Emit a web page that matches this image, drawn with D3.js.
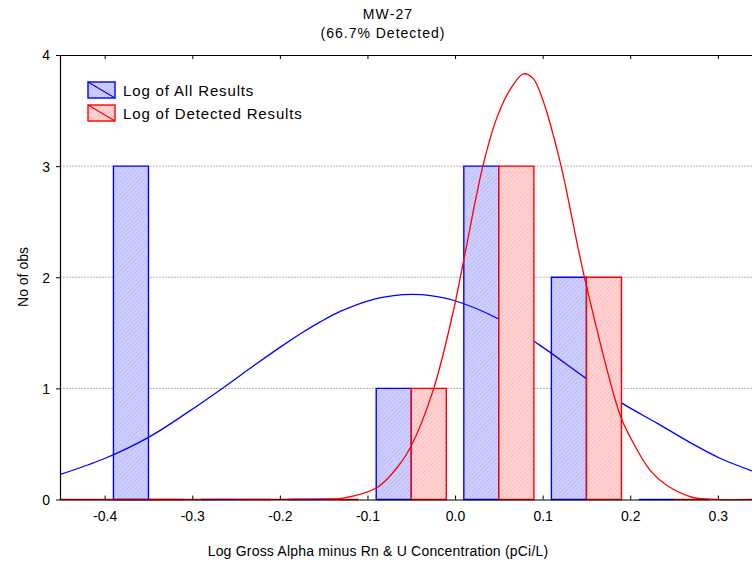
<!DOCTYPE html>
<html>
<head>
<meta charset="utf-8">
<script src="https://cdn.jsdelivr.net/npm/d3@7"></script>
<style>
  html, body { margin: 0; padding: 0; background: #ffffff; }
  svg { display: block; font-family: "Liberation Sans", Arial, sans-serif; }
</style>
</head>
<body>
<svg id="chart" width="752" height="563"></svg>
<script>
// ---------------- data ----------------
const titleLines = ["MW-27", "(66.7% Detected)"];
const xAxisTitle = "Log Gross Alpha minus Rn & U Concentration (pCi/L)";
const yAxisTitle = "No of obs";
const seriesNames = ["Log of All Results", "Log of Detected Results"];

const binCenters = [-0.35, -0.25, -0.15, -0.05, 0.05, 0.15, 0.25];
const allCounts = [3, 0, 0, 1, 3, 2, 0];
const detectedCounts = [0, 0, 0, 1, 3, 2, 0];

const xTicks = [-0.4, -0.3, -0.2, -0.1, 0.0, 0.1, 0.2, 0.3];
const xTickLabels = ["-0.4", "-0.3", "-0.2", "-0.1", "0.0", "0.1", "0.2", "0.3"];
const yTicks = [0, 1, 2, 3, 4];
const yTickLabels = ["0", "1", "2", "3", "4"];

// fitted curves
const allCurveX = [-0.451, -0.400, -0.350, -0.305, -0.265, -0.228, -0.197, -0.171, -0.154, -0.131, -0.097, -0.070, -0.049, -0.028, -0.002, 0.048, 0.097, 0.148, 0.191, 0.231, 0.268, 0.303, 0.339];
const allCurveY = [0.225, 0.369, 0.559, 0.786, 1.004, 1.214, 1.385, 1.518, 1.598, 1.693, 1.793, 1.834, 1.845, 1.835, 1.793, 1.631, 1.387, 1.099, 0.865, 0.685, 0.514, 0.369, 0.258];

const detCurveX = [-0.451, -0.300, -0.200, -0.146, -0.128, -0.089, -0.066, -0.051, -0.025, -0.002, 0.009, 0.032, 0.048, 0.063, 0.078, 0.089, 0.100, 0.120, 0.148, 0.188, 0.200, 0.223, 0.242, 0.272, 0.299, 0.339];
const detCurveY = [0, 0, 0.002, 0.005, 0.012, 0.108, 0.288, 0.468, 0.982, 1.694, 2.117, 3.009, 3.441, 3.69, 3.83, 3.79, 3.60, 3.036, 1.99, 0.77, 0.56, 0.26, 0.126, 0.018, 0.002, 0];

// ---------------- layout ----------------
const svg = d3.select("#chart");
const margin = { left: 60, top: 55, bottom: 499.5, right: 752 };
const xDomain = [-0.451, 0.339];
const halfBar = 0.04;

const x = d3.scaleLinear().domain(xDomain).range([margin.left, margin.right]);
const y = d3.scaleLinear().domain([0, 4]).range([margin.bottom, margin.top]);

const blue = "#0000ff", red = "#ff0000";

// patterns
const defs = svg.append("defs");
function hatch(id, base, line) {
  const p = defs.append("pattern").attr("id", id)
    .attr("patternUnits", "userSpaceOnUse").attr("width", 3).attr("height", 3)
    .attr("patternTransform", "rotate(45)");
  p.append("rect").attr("width", 3).attr("height", 3).attr("fill", base);
  p.append("line").attr("x1", 0).attr("y1", 0).attr("x2", 0).attr("y2", 3)
    .attr("stroke", line).attr("stroke-width", 1);
}
hatch("hb", "#d0d0ff", "#a6a6fb");
hatch("hr", "#ffd4d4", "#ffa6a6");

defs.append("clipPath").attr("id", "plotclip").append("rect")
  .attr("x", margin.left).attr("y", margin.top - 2)
  .attr("width", margin.right - margin.left).attr("height", margin.bottom - margin.top + 4);

// gridlines
svg.append("g").selectAll("line").data(yTicks.filter(d => d > 0 && d < 4)).join("line")
  .attr("x1", margin.left).attr("x2", margin.right)
  .attr("y1", d => y(d)).attr("y2", d => y(d))
  .attr("stroke", "#b4b4b4").attr("stroke-width", 1).attr("stroke-dasharray", "2,1");

const plot = svg.append("g").attr("clip-path", "url(#plotclip)");

function barPath(x0, x1, v) {
  const p = d3.path();
  p.moveTo(x(x0), y(0));
  p.lineTo(x(x0), y(v));
  p.lineTo(x(x1), y(v));
  p.lineTo(x(x1), y(0));
  p.closePath();
  return p.toString();
}

const line = d3.line().x(d => x(d[0])).y(d => y(Math.max(0, d[1]))).curve(d3.curveCatmullRom.alpha(0.5));

// blue bars
plot.append("g").selectAll("path").data(binCenters.map((c, i) => [c, allCounts[i]])).join("path")
  .attr("d", d => barPath(d[0] - halfBar, d[0], d[1]))
  .attr("fill", "url(#hb)").attr("stroke", blue).attr("stroke-width", 1.4);

// blue curve
plot.append("path").datum(allCurveX.map((v, i) => [v, allCurveY[i]]))
  .attr("d", line).attr("fill", "none").attr("stroke", blue).attr("stroke-width", 1.3);

// red bars
plot.append("g").selectAll("path").data(binCenters.map((c, i) => [c, detectedCounts[i]])).join("path")
  .attr("d", d => barPath(d[0], d[0] + halfBar, d[1]))
  .attr("fill", "url(#hr)").attr("stroke", red).attr("stroke-width", 1.4);

// red curve
plot.append("path").datum(detCurveX.map((v, i) => [v, detCurveY[i]]))
  .attr("d", line).attr("fill", "none").attr("stroke", red).attr("stroke-width", 1.3);

// axes
const fontSize = 14;
const xAxis = svg.append("g").attr("transform", `translate(0,${margin.bottom})`)
  .call(d3.axisBottom(x).tickValues(xTicks).tickFormat((d, i) => xTickLabels[i]).tickSizeInner(-4).tickSizeOuter(0).tickPadding(12));
const xAxisTop = svg.append("g").attr("transform", `translate(0,${margin.top})`)
  .call(d3.axisTop(x).tickValues(xTicks).tickFormat("").tickSizeInner(-4).tickSizeOuter(0));
const yAxis = svg.append("g").attr("transform", `translate(${margin.left},0)`)
  .call(d3.axisLeft(y).tickValues(yTicks).tickFormat((d, i) => yTickLabels[i]).tickSizeInner(4).tickSizeOuter(0).tickPadding(6));

[xAxis, xAxisTop, yAxis].forEach(g => {
  g.select(".domain").attr("stroke", "#000").attr("stroke-width", 1.2);
  g.selectAll(".tick line").attr("stroke", "#000").attr("stroke-width", 1);
  g.selectAll("text").attr("font-size", fontSize).attr("fill", "#000")
    .attr("font-family", "'Liberation Sans', Arial, sans-serif");
});
yAxis.selectAll(".tick text").attr("dy", "0.35em");

// titles
svg.append("text").attr("x", 388).attr("y", 19).attr("text-anchor", "middle")
  .attr("font-size", 14).attr("letter-spacing", 1.1).text(titleLines[0]);
svg.append("text").attr("x", 383).attr("y", 38).attr("text-anchor", "middle")
  .attr("font-size", 14).attr("letter-spacing", 1).text(titleLines[1]);

svg.append("text").attr("x", 378).attr("y", 556).attr("text-anchor", "middle")
  .attr("font-size", 14).attr("letter-spacing", 0.2).text(xAxisTitle);

svg.append("text").attr("transform", "translate(28,277) rotate(-90)").attr("text-anchor", "middle")
  .attr("font-size", 14).text(yAxisTitle);

// legend
const legend = svg.append("g");
const legendItems = [
  { name: seriesNames[0], fill: "url(#hb)", stroke: blue, y: 82 },
  { name: seriesNames[1], fill: "url(#hr)", stroke: red, y: 105 }
];
legendItems.forEach(it => {
  legend.append("rect").attr("x", 88).attr("y", it.y).attr("width", 27).attr("height", 16)
    .attr("fill", it.fill).attr("stroke", it.stroke).attr("stroke-width", 1.4);
  legend.append("line").attr("x1", 88).attr("y1", it.y).attr("x2", 115).attr("y2", it.y + 16)
    .attr("stroke", it.stroke).attr("stroke-width", 1.2);
  legend.append("text").attr("x", 123).attr("y", it.y + 14).attr("font-size", 15)
    .attr("letter-spacing", 0.85).text(it.name);
});
</script>
</body>
</html>
